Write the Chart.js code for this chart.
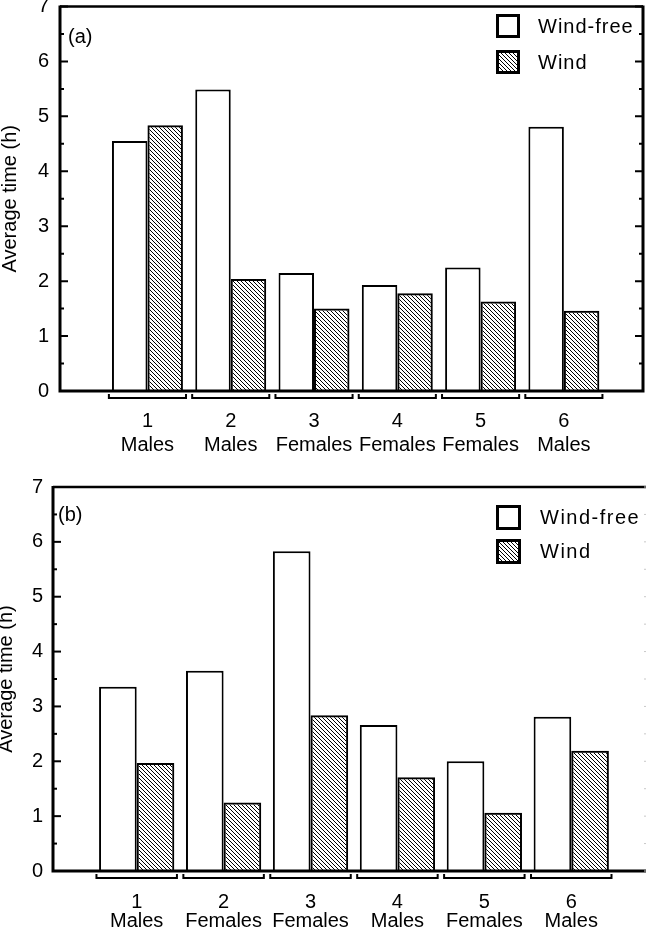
<!doctype html>
<html lang="en">
<head>
<meta charset="utf-8">
<title>Average time: wind-free vs wind</title>
<style>
  * { margin: 0; padding: 0; }
  body { background: #fff; width: 646px; }
  canvas { display: block; }
</style>
</head>
<body>
<canvas id="chartA" width="646" height="467"></canvas>
<canvas id="chartB" width="646" height="467"></canvas>
<script src="https://cdn.jsdelivr.net/npm/chart.js/dist/chart.umd.min.js"></script>
<script>
  // panel (a)
  const groupsA = ['Males', 'Males', 'Females', 'Females', 'Females', 'Males'];
  const windFreeA = [4.55, 5.49, 2.15, 1.93, 2.25, 4.81];
  const windA = [4.84, 2.04, 1.50, 1.78, 1.63, 1.46];

  // panel (b)
  const groupsB = ['Males', 'Females', 'Females', 'Males', 'Females', 'Males'];
  const windFreeB = [3.36, 3.65, 5.83, 2.66, 2.00, 2.81];
  const windB = [1.97, 1.25, 2.84, 1.71, 1.06, 2.19];

  const seriesNames = ['Wind-free', 'Wind'];
  const yTicks = [0, 1, 2, 3, 4, 5, 6, 7];

  const FONT = "'Liberation Sans', Arial, sans-serif";

  function makeHatch() {
    const c = document.createElement('canvas');
    c.width = 4;
    c.height = 4;
    const g = c.getContext('2d');
    g.strokeStyle = '#000';
    g.lineWidth = 1;
    g.beginPath();
    g.moveTo(-1, -1); g.lineTo(5, 5);
    g.moveTo(3, -1); g.lineTo(5, 1);
    g.moveTo(-1, 3); g.lineTo(1, 5);
    g.stroke();
    return g.createPattern(c, 'repeat');
  }
  const hatch = makeHatch();

  // axes frame, inward ticks, group brackets, panel tag, legend
  const frame = {
    id: 'frame',
    afterDatasetsDraw(chart, args, o) {
      const { ctx, chartArea: { left, right, top, bottom }, scales: { x, y } } = chart;
      ctx.save();
      ctx.strokeStyle = '#000';
      ctx.fillStyle = '#000';

      ctx.lineWidth = 2.5;
      ctx.beginPath();
      ctx.moveTo(left, top);
      ctx.lineTo(o.rightAxis ? right : chart.width, top);
      ctx.stroke();

      ctx.lineWidth = 3;
      ctx.beginPath();
      ctx.moveTo(left, top - 1);
      ctx.lineTo(left, bottom);
      ctx.lineTo(o.rightAxis ? right : chart.width, bottom);
      if (o.rightAxis) ctx.lineTo(right, top - 1);
      ctx.stroke();

      // ticks every half hour, pointing inward
      ctx.lineWidth = 2;
      for (let v = 0; v <= 7; v += 0.5) {
        const py = y.getPixelForValue(v);
        const len = v % 1 === 0 ? 8 : 4;
        ctx.beginPath();
        ctx.moveTo(left, py); ctx.lineTo(left + len, py);
        if (o.rightAxis) { ctx.moveTo(right, py); ctx.lineTo(right - len, py); }
        ctx.stroke();
        if (!o.rightAxis) {
          ctx.save();
          ctx.strokeStyle = '#c8c8c8';
          ctx.lineWidth = 1;
          ctx.beginPath();
          ctx.moveTo(chart.width - 2, py); ctx.lineTo(chart.width, py);
          ctx.stroke();
          ctx.restore();
        }
      }

      // brackets under each group
      ctx.lineWidth = 2;
      const by = bottom + 7;
      o.groups.forEach((g, i) => {
        const x0 = x.getPixelForValue(i + 1 - 0.463);
        const x1 = x.getPixelForValue(i + 1 + 0.463);
        ctx.beginPath();
        ctx.moveTo(x0, by - 4); ctx.lineTo(x0, by); ctx.lineTo(x1, by); ctx.lineTo(x1, by - 4);
        ctx.stroke();
      });

      // panel tag
      ctx.font = '20px ' + FONT;
      ctx.textBaseline = 'middle';
      ctx.textAlign = 'left';
      ctx.fillText(o.tag, o.tagX, o.tagY);

      // legend
      const lg = o.legend;
      chart.data.datasets.forEach((ds, i) => {
        const by0 = lg.y + i * lg.step;
        ctx.fillStyle = ds.backgroundColor;
        ctx.fillRect(lg.x, by0, lg.size, lg.size);
        ctx.lineWidth = 3;
        ctx.strokeStyle = '#000';
        ctx.strokeRect(lg.x + 1.5, by0 + 1.5, lg.size - 3, lg.size - 3);
        ctx.fillStyle = '#000';
        ctx.letterSpacing = lg.spacing;
        ctx.fillText(ds.label, lg.textX, by0 + lg.size / 2 + 1);
        ctx.letterSpacing = '0px';
      });
      ctx.restore();
    }
  };

  function makeChart(id, groups, free, wind, o) {
    const font = { family: FONT, size: 20 };
    return new Chart(document.getElementById(id), {
      type: 'bar',
      data: {
        datasets: [
          {
            label: seriesNames[0],
            data: free.map((v, i) => ({ x: i + 1, y: v })),
            backgroundColor: '#fff',
            borderColor: '#000',
            borderWidth: 2,
            categoryPercentage: o.catPct,
            barPercentage: 1
          },
          {
            label: seriesNames[1],
            data: wind.map((v, i) => ({ x: i + 1, y: v })),
            backgroundColor: hatch,
            borderColor: '#000',
            borderWidth: 2,
            categoryPercentage: o.catPct,
            barPercentage: 1
          }
        ]
      },
      options: {
        responsive: false,
        animation: false,
        layout: { padding: { left: 0, top: o.top, right: o.right, bottom: 0 } },
        scales: {
          x: {
            type: 'linear',
            offset: false,
            min: o.xMin,
            max: o.xMax,
            grid: { display: false, drawTicks: false },
            border: { display: false },
            afterBuildTicks: s => { s.ticks = groups.map((g, i) => ({ value: i + 1 })); },
            afterFit: s => { s.height = o.xHeight; s.paddingLeft = 0; s.paddingRight = 0; },
            ticks: {
              autoSkip: false,
              maxRotation: 0,
              padding: o.xPad,
              color: '#000',
              font: { family: FONT, size: 20, lineHeight: o.xLine },
              callback: v => [String(v), groups[v - 1]]
            }
          },
          y: {
            min: 0,
            max: 7,
            grid: { display: false, drawTicks: false },
            border: { display: false },
            afterBuildTicks: s => { s.ticks = yTicks.map(v => ({ value: v })); },
            afterFit: s => { s.width = o.yWidth; s.paddingTop = 0; s.paddingBottom = 0; },
            ticks: { padding: o.yPad, color: '#000', font },
            title: {
              display: true,
              text: 'Average time (h)',
              color: '#000',
              font: { family: FONT, size: 20, lineHeight: 1 },
              padding: { top: o.titlePad, bottom: 0 }
            }
          }
        },
        plugins: {
          legend: { display: false },
          tooltip: { enabled: false },
          frame: {
            groups,
            rightAxis: o.rightAxis,
            tag: o.tag, tagX: o.tagX, tagY: o.tagY,
            legend: o.legend
          }
        }
      },
      plugins: [frame]
    });
  }

  makeChart('chartA', groupsA, windFreeA, windA, {
    top: 6.5, right: 3, yWidth: 60, xHeight: 76,
    xMin: -0.05, xMax: 6.95, catPct: 0.852,
    xPad: 19, xLine: 1.18, yPad: 11, titlePad: 0,
    rightAxis: true,
    tag: '(a)', tagX: 68, tagY: 37,
    legend: { x: 496, y: 14, step: 36, size: 24, textX: 538, spacing: '1px' }
  });

  makeChart('chartB', groupsB, windFreeB, windB, {
    top: 20, right: 0, yWidth: 53, xHeight: 63,
    xMin: 0.037, xMax: 6.86, catPct: 0.866,
    xPad: 22.5, xLine: 0.925, yPad: 10, titlePad: -4,
    rightAxis: false,
    tag: '(b)', tagX: 58, tagY: 48,
    legend: { x: 496, y: 38, step: 34, size: 25, textX: 540, spacing: '1.5px' }
  });
</script>
</body>
</html>
